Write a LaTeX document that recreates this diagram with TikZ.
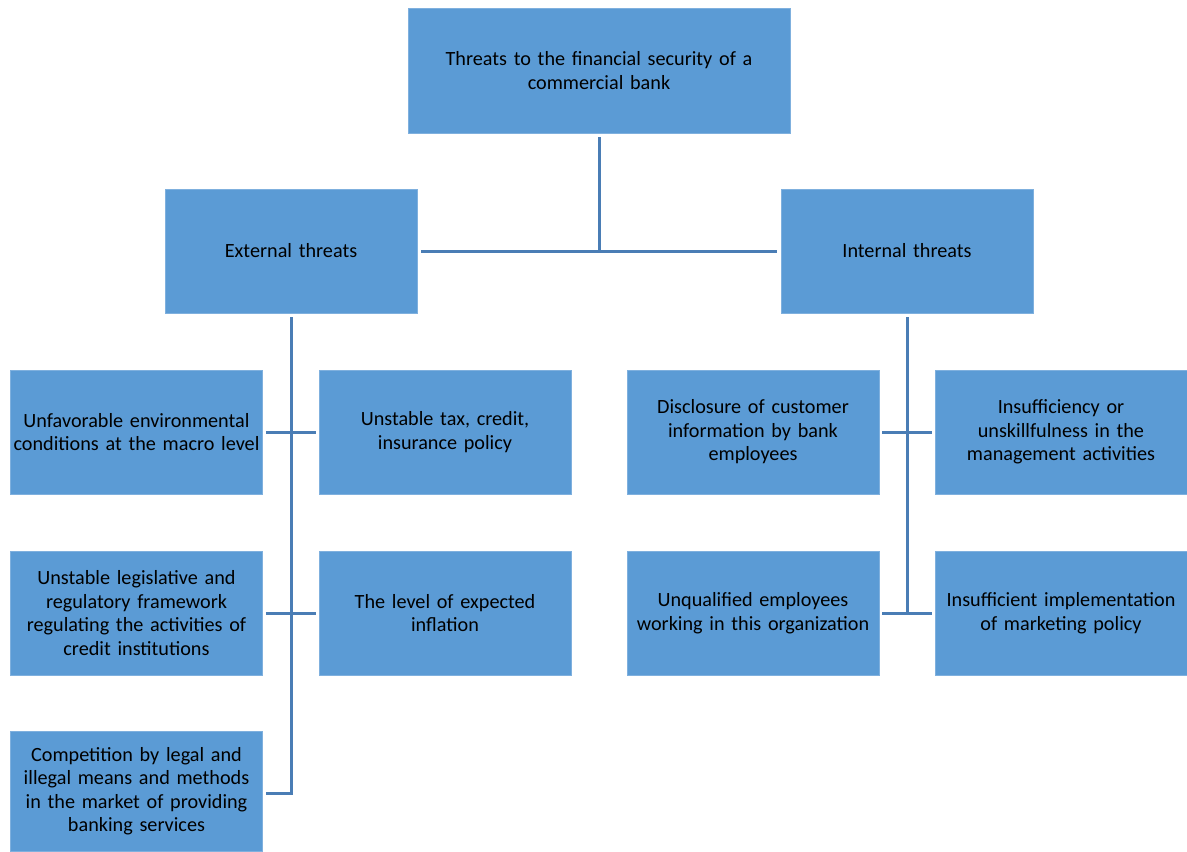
\documentclass[tikz,border=0pt]{standalone}
\usepackage{fontspec}
\setmainfont{Carlito}
\definecolor{boxblue}{HTML}{5B9BD5}
\definecolor{boxedge}{HTML}{7FB0DE}
\definecolor{linkblue}{HTML}{4A7DB5}
\begin{document}
\begin{tikzpicture}[x=1pt,y=-1pt,
  box/.style={fill=boxblue, draw=boxedge, line width=0.6pt,
    minimum width=252pt, minimum height=124pt, text width=252pt,
    inner sep=0pt, align=center, text=black,
    font=\fontsize{20.2}{23.5}\selectfont},
  link/.style={draw=linkblue, line width=3pt}]
\useasboundingbox (0,0) rectangle (1187,852);

% root
\node[box, minimum width=382pt, text width=370pt, minimum height=125pt] (top) at (599,70.5)
  {Threats to the financial security of a\\commercial bank};

% two main groups
\node[box] (ext) at (291,251) {External threats};
\node[box] (int) at (907,251) {Internal threats};

% external threats
\node[box] (e1) at (136.5,432) {Unfavorable environmental\\conditions at the macro level};
\node[box] (e2) at (445,432) {Unstable tax, credit,\\insurance policy};
\node[box] (e3) at (136.5,613) {Unstable legislative and\\regulatory framework\\regulating the activities of\\credit institutions};
\node[box] (e4) at (445,613) {The level of expected\\inflation};
\node[box, minimum height=120pt] (e5) at (136.5,791) {Competition by legal and\\illegal means and methods\\in the market of providing\\banking services};

% internal threats
\node[box] (i1) at (753,432) {Disclosure of customer\\information by bank\\employees};
\node[box] (i2) at (1061,432) {Insufficiency or\\unskillfulness in the\\management activities};
\node[box] (i3) at (753,613) {Unqualified employees\\working in this organization};
\node[box] (i4) at (1061,613) {Insufficient implementation\\of marketing policy};

% root to groups
\draw[link] ([yshift=-4pt]top.south) -- (top.south |- ext.east);
\draw[link] ([xshift=4pt]ext.east) -- ([xshift=-4pt]int.west);

% external trunk and branches
\draw[link] ([yshift=-4pt]ext.south) |- ([xshift=3pt,yshift=-2pt]e5.east);
\draw[link] ([xshift=3pt]e1.east) -- ([xshift=-3pt]e2.west);
\draw[link] ([xshift=3pt]e3.east) -- ([xshift=-3pt]e4.west);

% internal trunk and branches
\draw[link] ([yshift=-4pt]int.south) -- (int.south |- i3.east);
\draw[link] ([xshift=3pt]i1.east) -- ([xshift=-3pt]i2.west);
\draw[link] ([xshift=3pt]i3.east) -- ([xshift=-3pt]i4.west);
\end{tikzpicture}
\end{document}
